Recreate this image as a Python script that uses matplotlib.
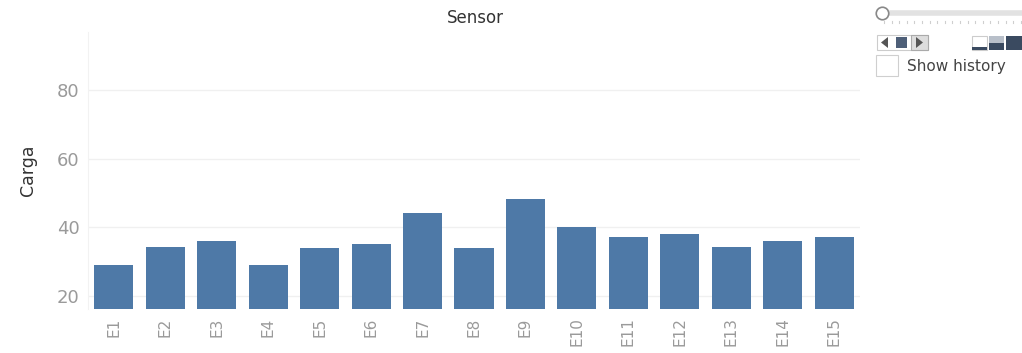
import matplotlib
matplotlib.use("Agg")
import matplotlib.pyplot as plt
from matplotlib.patches import Rectangle, Polygon
from matplotlib.lines import Line2D

# Sensor load data
sensors = ["E1", "E2", "E3", "E4", "E5", "E6", "E7", "E8", "E9", "E10",
           "E11", "E12", "E13", "E14", "E15"]
carga = [29.0, 34.2, 36.0, 29.0, 34.1, 35.1, 44.3, 34.1, 48.2, 40.0,
         37.2, 38.2, 34.2, 36.0, 37.2]
y_ticks = [20, 40, 60, 80]

W, H = 1022, 353
fig = plt.figure(figsize=(W / 100, H / 100), dpi=100)
fig.patch.set_facecolor("white")


def fx(x):
    return x / W


def fy(y):
    return 1 - y / H


ax = fig.add_axes([fx(88), fy(309), fx(860) - fx(88), fy(32) - fy(309)])
ax.set_facecolor("white")
x = list(range(len(sensors)))
ax.bar(x, carga, width=0.76, color="#4e79a7", bottom=0, zorder=3)
ax.set_xlim(-0.5, len(sensors) - 0.5)
ax.set_ylim(16.2, 97)
ax.set_yticks(y_ticks)
ax.set_yticklabels([str(t) for t in y_ticks], fontsize=13, color="#9a9a9a")
ax.set_xticks(x)
ax.set_xticklabels(sensors, rotation=90, fontsize=11, color="#9a9a9a")
ax.tick_params(axis="both", length=0, pad=6)
ax.grid(axis="y", color="#f0f0f0", linewidth=1, zorder=0)
for s in ["top", "right", "bottom"]:
    ax.spines[s].set_visible(False)
ax.spines["left"].set_color("#f2f2f2")
ax.set_ylabel("Carga", fontsize=12.5, color="#333333", labelpad=14)

fig.text(fx(475), fy(18), "Sensor", ha="center", va="center",
         fontsize=12, color="#333333")

# Page slider
fig.add_artist(Line2D([fx(888), fx(1022)], [fy(13), fy(13)], color="#e2e2e2",
                      linewidth=4, transform=fig.transFigure))
for i in range(19):
    tx = 884 + i * 7.6
    fig.add_artist(Line2D([fx(tx), fx(tx)], [fy(21), fy(23)], color="#cfcfcf",
                          linewidth=0.8, transform=fig.transFigure))
fig.add_artist(Line2D([fx(882)], [fy(13)], marker="o", markersize=9,
                      markerfacecolor="white", markeredgecolor="#888888",
                      markeredgewidth=1.2, transform=fig.transFigure))

# Playback controls
fig.add_artist(Rectangle((fx(877), fy(50)), fx(51), fy(35) - fy(50),
                         transform=fig.transFigure, facecolor="white",
                         edgecolor="#cccccc", linewidth=0.8))
fig.add_artist(Polygon([(fx(881), fy(42.5)), (fx(888), fy(37)), (fx(888), fy(48))],
                       closed=True, transform=fig.transFigure, facecolor="#555555"))
fig.add_artist(Rectangle((fx(896), fy(48)), fx(11), fy(37) - fy(48),
                         transform=fig.transFigure, facecolor="#4e5f78"))
fig.add_artist(Rectangle((fx(911), fy(50)), fx(17), fy(35) - fy(50),
                         transform=fig.transFigure, facecolor="#dddddd",
                         edgecolor="#aaaaaa", linewidth=0.8))
fig.add_artist(Polygon([(fx(923), fy(42.5)), (fx(916), fy(37)), (fx(916), fy(48))],
                       closed=True, transform=fig.transFigure, facecolor="#555555"))

# History mark size icons
fig.add_artist(Rectangle((fx(972), fy(50)), fx(15), fy(36) - fy(50),
                         transform=fig.transFigure, facecolor="white",
                         edgecolor="#cccccc", linewidth=0.8))
fig.add_artist(Rectangle((fx(972), fy(50)), fx(15), fy(47) - fy(50),
                         transform=fig.transFigure, facecolor="#3a4a60"))
fig.add_artist(Rectangle((fx(989), fy(50)), fx(15), fy(36) - fy(50),
                         transform=fig.transFigure, facecolor="#b8bfc9"))
fig.add_artist(Rectangle((fx(989), fy(50)), fx(15), fy(43) - fy(50),
                         transform=fig.transFigure, facecolor="#3a4a60"))
fig.add_artist(Rectangle((fx(1006), fy(50)), fx(16), fy(36) - fy(50),
                         transform=fig.transFigure, facecolor="#3a4a60"))

# Show history checkbox
fig.add_artist(Rectangle((fx(876), fy(76)), fx(22), fy(55) - fy(76),
                         transform=fig.transFigure, facecolor="white",
                         edgecolor="#cfcfcf", linewidth=0.8))
fig.text(fx(907), fy(66), "Show history", ha="left", va="center",
         fontsize=11, color="#444444")

fig.savefig("out.png", dpi=100, facecolor="white")
